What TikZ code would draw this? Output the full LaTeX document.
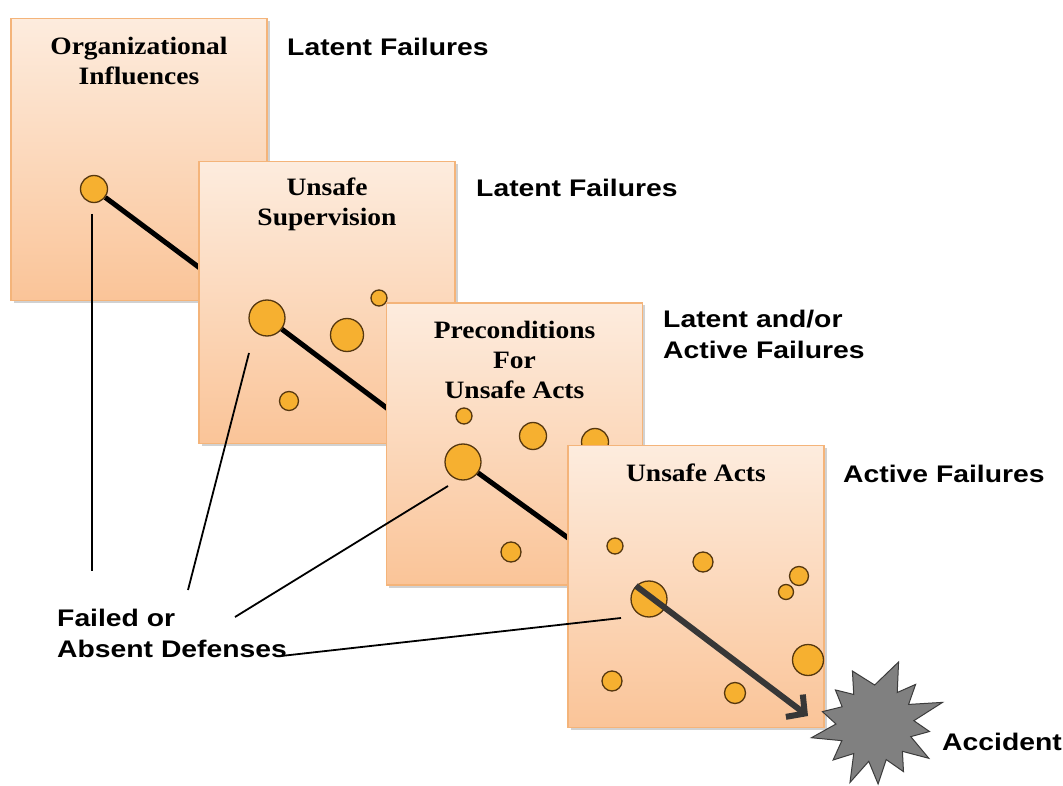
\documentclass[tikz,border=0pt]{standalone}
\usepackage{fontspec}
\usetikzlibrary{arrows.meta}
\newfontfamily\labfont[FakeStretch=1.18]{Liberation Sans}
\newfontfamily\ttlfont[FakeStretch=1.1]{Liberation Serif}
\definecolor{boxtop}{RGB}{253,236,222}
\definecolor{boxbot}{RGB}{250,196,152}
\definecolor{boxedge}{RGB}{244,180,122}
\definecolor{dotfill}{RGB}{246,176,48}
\definecolor{dotedge}{RGB}{85,55,15}
\definecolor{arrowc}{RGB}{55,55,55}
\definecolor{burstfill}{RGB}{128,128,128}
\definecolor{burstedge}{RGB}{60,60,60}
\begin{document}
\begin{tikzpicture}[x=1pt,y=1pt,
  layerbox/.style={draw=boxedge, line width=1.4pt, top color=boxtop, bottom color=boxbot,
    minimum width=256pt, minimum height=282pt, inner sep=0pt,
    preaction={fill=black, opacity=0.18, transform canvas={xshift=2.5pt,yshift=-2.5pt}}},
  dot/.style={circle, draw=dotedge, line width=1.3pt, fill=dotfill, inner sep=0pt, minimum size=#1},
  dot/.default=20pt,
  chain/.style={line width=5pt, black},
  defline/.style={line width=1.8pt, black},
  title/.style={font=\ttlfont\bfseries\fontsize{25}{30}\selectfont, align=center, anchor=north, inner sep=0pt},
  lab/.style={font=\labfont\bfseries\fontsize{24}{31}\selectfont, align=left, anchor=base west, inner sep=0pt},
  burst/.style={fill=burstfill, draw=burstedge, line width=1pt}
]
\useasboundingbox (0,0) rectangle (1063,-786);
\fill[white] (0,0) rectangle (1063,-786);

% ---- layer 1
\node[layerbox] (b1) at (139,-159.5) {};
\node[title] (t1) at (139,-37) {Organizational\\Influences};
\node[dot=27pt] (c1a) at (94,-189) {};
\coordinate (e1) at (240,-298);
\draw[chain] (c1a) -- (e1);

% ---- layer 2
\node[layerbox] (b2) at (327,-302.5) {};
\node[title] (t2) at (327,-178) {Unsafe\\Supervision};
\node[dot=36pt] (c2a) at (267,-318) {};
\node[dot=33pt] (c2b) at (347,-335) {};
\node[dot=16pt] (c2c) at (379,-298) {};
\node[dot=19pt] (c2d) at (289,-401) {};
\coordinate (e2) at (420,-433);
\draw[chain] (c2a) -- (e2);

% ---- layer 3
\node[layerbox] (b3) at (514.5,-444) {};
\node[title] (t3) at (514.5,-321) {Preconditions\\For\\Unsafe Acts};
\node[dot=16pt] (c3a) at (464,-416) {};
\node[dot=27pt] (c3b) at (533,-436) {};
\node[dot=27pt] (c3c) at (595,-442) {};
\node[dot=36pt] (c3d) at (463,-462) {};
\node[dot=20pt] (c3e) at (511,-552) {};
\coordinate (e3) at (600,-561);
\draw[chain] (c3d) -- (e3);

% ---- layer 4
\node[layerbox] (b4) at (696,-586.5) {};
\node[title] (t4) at (696,-464) {Unsafe Acts};
\node[dot=16pt] (c4a) at (615,-546) {};
\node[dot=20pt] (c4b) at (703,-562) {};
\node[dot=19pt] (c4c) at (799,-576) {};
\node[dot=15pt] (c4d) at (786,-592) {};
\node[dot=36pt] (c4e) at (649,-599) {};
\node[dot=31pt] (c4f) at (808,-660) {};
\node[dot=20pt] (c4g) at (612,-681) {};
\node[dot=21pt] (c4h) at (735,-693) {};

% ---- accident
\begin{scope}[shift={(876,-724)}]
\draw[burst] (70:66) -- (56:38) -- (45:56) -- (31:38) -- (18:70) -- (5:38) -- (-8:54)
  -- (-20:37) -- (-33:63) -- (-46:38) -- (-60:55) -- (-74:37) -- (-88:60) -- (-101:38)
  -- (-114:64) -- (-127:37) -- (-140:56) -- (-154:38) -- (-168:66) -- (-180:40)
  -- (167:55) -- (153:38) -- (140:53) -- (127:37) -- (114:58) -- (92:39) -- cycle;
\coordinate (burstc) at (0,0);
\end{scope}
\coordinate (hit) at (808,-716);
\draw[line width=6pt, arrowc, -{Straight Barb[length=13pt,width=28pt]}] (c4e.north west) -- (hit);

% ---- defense pointer lines
\coordinate (d1a) at (92,-214);  \coordinate (d1b) at (92,-571);
\coordinate (d2a) at (249,-353); \coordinate (d2b) at (188,-590);
\coordinate (d3a) at (448,-486); \coordinate (d3b) at (235,-617);
\coordinate (d4a) at (621,-618); \coordinate (d4b) at (281,-656);
\draw[defline] (d1a) -- (d1b);
\draw[defline] (d2a) -- (d2b);
\draw[defline] (d3a) -- (d3b);
\draw[defline] (d4a) -- (d4b);

% ---- side labels (multi-line nodes: base = last line)
\node[lab] (L1) at (287,-56) {Latent Failures};
\node[lab] (L2) at (476,-197) {Latent Failures};
\node[lab] (L3) at (663,-358) {Latent and/or\\Active Failures};
\node[lab] (L4) at (843,-482) {Active Failures};
\node[lab] (L5) at (942,-750) {Accident};
\node[lab] (L6) at (57,-657) {Failed or\\Absent Defenses};
\end{tikzpicture}
\end{document}
